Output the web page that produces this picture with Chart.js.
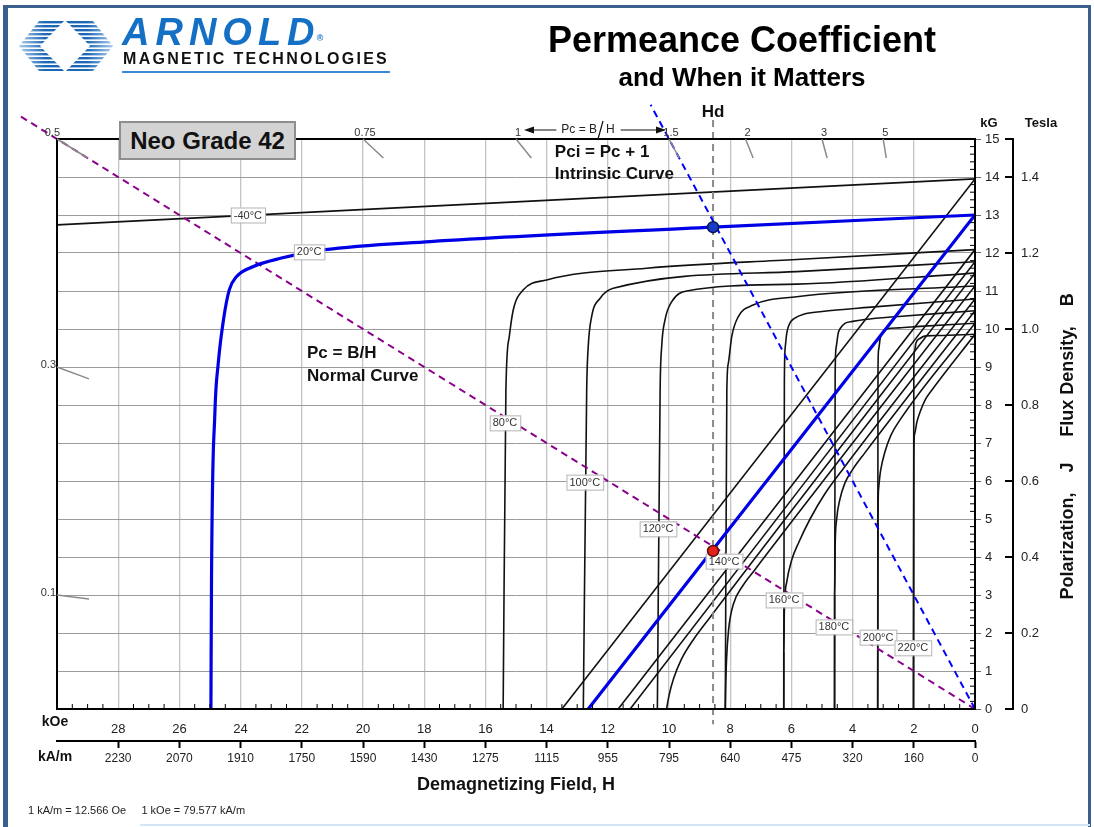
<!DOCTYPE html>
<html>
<head>
<meta charset="utf-8">
<script src="https://cdn.jsdelivr.net/npm/chart.js@4.4.1/dist/chart.umd.min.js"></script>
<style>
body{margin:0;background:#fff;width:1094px;height:827px;overflow:hidden;position:relative;font-family:"Liberation Sans",Arial,sans-serif}
#c{position:absolute;left:0;top:0}
.abs{position:absolute;white-space:nowrap}
#frame{position:absolute;left:3px;top:5px;width:1080px;height:840px;border-left:5px solid #3b5f8c;border-top:3px solid #3b5f8c;border-right:3px solid #3b5f8c}
</style>
</head>
<body>
<canvas id="c" width="1094" height="827"></canvas>
<div id="frame"></div>
<div class="abs" style="left:140px;top:824px;width:950px;height:2px;background:#d4e5f7"></div>

<svg class="abs" style="left:18px;top:20px" width="96" height="52" viewBox="0 0 96 52">
  <defs>
    <linearGradient id="lg" x1="0" x2="1" y1="0" y2="0">
      <stop offset="0" stop-color="#b3d1ef"/><stop offset="0.28" stop-color="#1d68b6"/>
      <stop offset="0.72" stop-color="#1d68b6"/><stop offset="1" stop-color="#b3d1ef"/>
    </linearGradient>
    <clipPath id="hex"><polygon points="1,26 21,1 75,1 95,26 75,51 21,51"/></clipPath>
  </defs>
  <g clip-path="url(#hex)" fill="url(#lg)">
    <rect x="0" y="1" width="96" height="2.4"/><rect x="0" y="5" width="96" height="2.4"/>
    <rect x="0" y="9" width="96" height="2.4"/><rect x="0" y="13" width="96" height="2.4"/>
    <rect x="0" y="17" width="96" height="2.4"/><rect x="0" y="21" width="96" height="2.4"/>
    <rect x="0" y="25" width="96" height="2.4"/><rect x="0" y="29" width="96" height="2.4"/>
    <rect x="0" y="33" width="96" height="2.4"/><rect x="0" y="37" width="96" height="2.4"/>
    <rect x="0" y="41" width="96" height="2.4"/><rect x="0" y="45" width="96" height="2.4"/>
    <rect x="0" y="49" width="96" height="2.4"/>
  </g>
  <polygon points="22,26 47,0 72,26 47,52" fill="#fff"/>
</svg>
<div class="abs" style="left:122px;top:13px;font:italic 900 38px/38px 'Liberation Sans',Arial,sans-serif;letter-spacing:6px;color:#1470c4">ARNOLD<span style="font-size:9px;vertical-align:top;letter-spacing:0;position:relative;top:6px;left:-4px">®</span></div>
<div class="abs" style="left:123px;top:51px;font:bold 16px/16px 'Liberation Sans',Arial,sans-serif;letter-spacing:2.3px;color:#111">MAGNETIC TECHNOLOGIES</div>
<div class="abs" style="left:122px;top:71px;width:268px;height:2px;background:#3a8ad8"></div>

<div class="abs" style="left:492px;width:500px;top:22px;text-align:center;font:bold 36px/36px 'Liberation Sans',Arial,sans-serif;color:#000">Permeance Coefficient</div>
<div class="abs" style="left:492px;width:500px;top:64px;text-align:center;font:bold 26px/26px 'Liberation Sans',Arial,sans-serif;color:#000">and When it Matters</div>

<div class="abs" style="left:119px;top:121px;width:177px;height:39px;box-sizing:border-box;border:2px solid #8e8e8e;background:#d3d3d3;text-align:center;font:bold 24px/35px 'Liberation Sans',Arial,sans-serif;color:#111">Neo Grade 42</div>

<div class="abs" style="left:28px;top:804px;font:11px/13px 'Liberation Sans',Arial,sans-serif;color:#222">1 kA/m = 12.566 Oe&nbsp;&nbsp;&nbsp;&nbsp;&nbsp;1 kOe = 79.577 kA/m</div>

<script>
// intrinsic curves J(H), [H kOe, J kG]
const jM40 = [[0, 13.95], [30, 12.74]];
const j20 = [[0, 13.0], [8.56, 12.68], [17.8, 12.3], [21.3, 12.08], [22.7, 11.86], [23.6, 11.64], [24.13, 11.38], [24.37, 11.03], [24.56, 10.24], [24.73, 9.1], [24.84, 7.8], [24.95, 3.5], [24.97, 0]];
const j80 = [[0, 12.09], [5.83, 11.83], [10.73, 11.6], [14.0, 11.29], [14.76, 11.03], [15.09, 10.5], [15.22, 9.8], [15.33, 8.39], [15.42, 0]];
const j100 = [[0, 11.77], [5.83, 11.51], [11.82, 11.07], [12.25, 10.81], [12.53, 10.32], [12.64, 9.53], [12.69, 8.39], [12.8, 0]];
const j120 = [[0, 11.47], [5.83, 11.18], [9.42, 11.0], [9.91, 10.72], [10.13, 10.24], [10.24, 9.53], [10.29, 8.39], [10.38, 0]];
const j140 = [[0, 11.13], [5.83, 10.85], [7.25, 10.63], [7.74, 10.32], [7.95, 9.8], [8.06, 9.1], [8.11, 8.39], [8.16, 0]];
const j160 = [[0, 10.79], [3.5, 10.57], [5.0, 10.46], [5.6, 10.39], [5.9, 10.28], [6.04, 10.17], [6.15, 9.9], [6.2, 9.53], [6.23, 8.6], [6.25, 0]];
const j180 = [[0, 10.48], [2.5, 10.33], [3.6, 10.25], [4.0, 10.2], [4.25, 10.15], [4.4, 10.02], [4.47, 9.89], [4.54, 9.5], [4.57, 8.8], [4.59, 0]];
const j200 = [[0, 10.15], [1.8, 10.07], [2.5, 10.03], [2.9, 10.0], [3.05, 9.88], [3.1, 9.75], [3.15, 9.45], [3.17, 8.9], [3.18, 0]];
const j220 = [[0, 9.86], [1.2, 9.83], [1.6, 9.82], [1.8, 9.75], [1.93, 9.63], [1.98, 9.4], [2.0, 9.0], [2.01, 0]];

// normal curves B(H), [H kOe, B kG]
const bM40 = [[0, 13.95], [13.5, 0]];
const b20 = [[0, 13.0], [12.64, 0]];
const b80 = [[0, 12.09], [11.66, 0]];
const b100 = [[0, 11.77], [11.27, 0]];
const b120 = [[0, 11.47], [8.7, 2.37], [9.2, 1.83], [9.6, 1.3], [9.85, 0.8], [10.0, 0.35], [10.08, 0]];
const b140 = [[0, 11.13], [7.2, 3.66], [7.6, 3.23], [7.9, 2.75], [8.05, 2.1], [8.12, 1.3], [8.15, 0.5], [8.16, 0]];
const b160 = [[0, 10.79], [4.3, 6.33], [4.9, 5.67], [5.39, 5.0], [5.75, 4.4], [5.99, 3.92], [6.15, 3.35], [6.23, 2.6], [6.25, 1.5], [6.25, 0]];
const b180 = [[0, 10.48], [3.6, 6.74], [4.0, 6.3], [4.25, 5.95], [4.42, 5.5], [4.52, 5.0], [4.57, 4.3], [4.59, 3.0], [4.59, 0]];
const b200 = [[0, 10.15], [2.5, 7.55], [2.75, 7.2], [2.95, 6.75], [3.08, 6.3], [3.15, 5.8], [3.17, 5.0], [3.18, 0]];
const b220 = [[0, 9.86], [1.45, 8.35], [1.62, 8.15], [1.78, 7.85], [1.9, 7.55], [1.97, 7.25], [2.0, 6.7], [2.01, 0]];

// load lines and operating points
const loadPc = [[0, 0], [31.3, 15.65]];     // Pc = 0.5
const loadPci = [[0, 0], [10.6, 15.9]];     // Pci = 1.5
const hdLine = [[8.56, 15.5], [8.56, -0.4]];
const hdPoints = [[8.56, 12.68], [8.56, 4.16]];

// temperature tags
const tempNames = ['-40°C', '20°C', '80°C', '100°C', '120°C', '140°C', '160°C', '180°C', '200°C', '220°C'];
const tempTagH = [23.76, 21.76, 15.36, 12.75, 10.36, 8.2, 6.24, 4.61, 3.17, 2.03];
const tempTagB = [13.0, 12.03, 7.53, 5.97, 4.74, 3.89, 2.87, 2.16, 1.89, 1.61];

// notes inside the plot
const noteText = ['Pc = B/H', 'Normal Curve', 'Pci = Pc + 1', 'Intrinsic Curve'];
const noteH = [21.83, 21.83, 13.73, 13.73];
const noteB = [9.37, 8.76, 14.66, 14.08];

// axis labels
const kAmLabels = ['0', '160', '320', '475', '640', '795', '955', '1115', '1275', '1430', '1590', '1750', '1910', '2070', '2230'];
const teslaLabels = ['0', '0.2', '0.4', '0.6', '0.8', '1.0', '1.2', '1.4'];
const pcTop = [0.5, 0.75, 1, 1.5, 2, 3, 5];
const pcSide = [0.3, 0.1];

const fam = '"Liberation Sans", Arial, sans-serif';
Chart.defaults.font.family = fam;

function curve(pts, color, width) {
    return {
        data: pts.map(p => ({x: p[0], y: p[1]})),
        showLine: true, borderColor: color, borderWidth: width,
        pointRadius: 0, cubicInterpolationMode: 'monotone'
    };
}
function dashed(pts, color) {
    let d = curve(pts, color, 2);
    d.borderDash = [7, 5];
    d.cubicInterpolationMode = 'default';
    d.clip = false;
    return d;
}

//white tags with the temperatures
function tempTags(chart) {
    const ctx = chart.ctx, xs = chart.scales.x, ys = chart.scales.y;
    ctx.save();
    ctx.font = '11px ' + fam;
    ctx.textAlign = 'center';
    ctx.textBaseline = 'middle';
    tempNames.forEach((t, i) => {
        const px = xs.getPixelForValue(tempTagH[i]), py = ys.getPixelForValue(tempTagB[i]);
        const w = ctx.measureText(t).width + 6, h = 15;
        ctx.fillStyle = '#fff';
        ctx.fillRect(px - w / 2, py - h / 2, w, h);
        ctx.strokeStyle = '#b4b4b4';
        ctx.lineWidth = 1;
        ctx.strokeRect(px - w / 2 + 0.5, py - h / 2 + 0.5, w, h);
        ctx.fillStyle = '#333';
        ctx.fillText(t, px, py + 0.5);
    });
    ctx.fillStyle = '#111';
    ctx.font = 'bold 17px ' + fam;
    ctx.textAlign = 'left';
    noteText.forEach((t, i) => {
        ctx.fillText(t, xs.getPixelForValue(noteH[i]), ys.getPixelForValue(noteB[i]));
    });
    ctx.restore();
}

const decor = {
    id: 'decor',
    beforeDatasetDraw(chart, args) {
        if (chart.data.datasets[args.index].label === 'dots') tempTags(chart);
    },
    afterDraw(chart) {
        const ctx = chart.ctx, a = chart.chartArea;
        const xs = chart.scales.x, ys = chart.scales.y, ts = chart.scales.y2;
        ctx.save();
        //plot frame
        ctx.strokeStyle = '#000';
        ctx.lineWidth = 2;
        ctx.strokeRect(a.left, a.top, a.right - a.left, a.bottom - a.top);
        //small inner ticks
        ctx.lineWidth = 1;
        ctx.beginPath();
        for (let h = 0.5; h < 30; h += 0.5) {
            if (h % 2 === 0) continue;
            const px = xs.getPixelForValue(h);
            ctx.moveTo(px, a.bottom);
            ctx.lineTo(px, a.bottom - 5);
        }
        for (let i = 1; i < 75; i++) {
            if (i % 5 === 0) continue;
            const py = ys.getPixelForValue(i * 0.2);
            ctx.moveTo(a.right, py);
            ctx.lineTo(a.right - 5, py);
        }
        ctx.stroke();
        //Tesla ticks point left
        ctx.lineWidth = 2;
        ctx.beginPath();
        ts.ticks.map(t => t.value).concat([ts.max]).forEach(v => {
            const py = Math.round(ts.getPixelForValue(v));
            ctx.moveTo(ts.left - 8, py);
            ctx.lineTo(ts.left, py);
        });
        ctx.stroke();

        //permeance coefficient scale
        const ox = xs.getPixelForValue(0), oy = ys.getPixelForValue(0);
        ctx.strokeStyle = '#8a8a8a';
        ctx.lineWidth = 1.5;
        ctx.fillStyle = '#333';
        ctx.font = '11px ' + fam;
        ctx.textBaseline = 'alphabetic';
        pcTop.forEach(pc => {
            const px = xs.getPixelForValue(15 / pc), py = ys.getPixelForValue(15);
            const k = 19 / (oy - py);
            ctx.beginPath();
            ctx.moveTo(px, py);
            ctx.lineTo(px + k * (ox - px), py + 19);
            ctx.stroke();
            const corner = px < a.left + 4;
            ctx.textAlign = corner ? 'right' : 'center';
            ctx.fillText(String(pc), corner ? px + 3 : px + 2, py - 3);
        });
        pcSide.forEach(pc => {
            const px = xs.getPixelForValue(30), py = ys.getPixelForValue(30 * pc);
            const k = 32 / (ox - px);
            ctx.beginPath();
            ctx.moveTo(px, py);
            ctx.lineTo(px + 32, py + k * (oy - py));
            ctx.stroke();
            ctx.textAlign = 'right';
            ctx.fillText(String(pc), px - 1, py + 1);
        });

        // <-- Pc = B/H -->
        const l = xs.getPixelForValue(15) + 8, r = xs.getPixelForValue(10) - 3;
        const cx = (l + r) / 2 + 6, yy = 130;
        ctx.fillStyle = '#222';
        ctx.strokeStyle = '#111';
        ctx.font = '12px ' + fam;
        ctx.textBaseline = 'middle';
        ctx.textAlign = 'right';
        ctx.fillText('Pc = B', cx - 4, yy);
        ctx.textAlign = 'left';
        ctx.fillText('H', cx + 5, yy);
        const tl = cx - 4 - ctx.measureText('Pc = B').width - 5;
        const tr = cx + 5 + ctx.measureText('H').width + 6;
        ctx.lineWidth = 1.2;
        ctx.beginPath();
        ctx.moveTo(cx - 3, yy + 9);
        ctx.lineTo(cx + 2, yy - 9);
        ctx.moveTo(l + 8, yy);
        ctx.lineTo(tl, yy);
        ctx.moveTo(tr, yy);
        ctx.lineTo(r - 8, yy);
        ctx.stroke();
        ctx.beginPath();
        ctx.moveTo(l, yy); ctx.lineTo(l + 10, yy - 3.5); ctx.lineTo(l + 10, yy + 3.5); ctx.closePath();
        ctx.moveTo(r, yy); ctx.lineTo(r - 10, yy - 3.5); ctx.lineTo(r - 10, yy + 3.5); ctx.closePath();
        ctx.fillStyle = '#111';
        ctx.fill();

        //headings round the plot
        ctx.fillStyle = '#111';
        ctx.textAlign = 'center';
        ctx.font = 'bold 17px ' + fam;
        ctx.fillText('Hd', xs.getPixelForValue(hdLine[0][0]), a.top - 27);
        ctx.font = 'bold 13px ' + fam;
        ctx.fillText('kG', a.right + 14, a.top - 16);
        ctx.fillText('Tesla', ts.left + 28, a.top - 16);
        ctx.font = 'bold 14px ' + fam;
        ctx.fillText('kOe', a.left - 2, a.bottom + 13);
        ctx.fillText('kA/m', a.left - 2, a.bottom + 48);

        ctx.font = 'bold 18px ' + fam;
        ctx.translate(1068, 0);
        ctx.rotate(-Math.PI / 2);
        ctx.fillText('Polarization,    J', -531, 0);
        ctx.fillText('Flux Density,    B', -365, 0);
        ctx.restore();
    }
};

const black = '#111';
const blue = '#0000e6';
const datasets = [
    {
        label: 'dots',
        data: hdPoints.map(p => ({x: p[0], y: p[1]})),
        showLine: false, pointRadius: 5.5, borderWidth: 1.5,
        backgroundColor: ['#1a3cc4', '#e3211b'],
        borderColor: ['#0a1650', '#5a0a0a'],
        clip: false
    },
    curve(j20, blue, 3.2),
    curve(b20, blue, 3.2),
    dashed(loadPci, '#0000ff'),
    dashed(loadPc, '#8b008b'),
    dashed(hdLine, '#8a8a8a')
];
[jM40, j80, j100, j120, j140, j160, j180, j200, j220].forEach(c => datasets.push(curve(c, black, 1.6)));
[bM40, b80, b100, b120, b140, b160, b180, b200, b220].forEach(c => datasets.push(curve(c, black, 1.6)));

new Chart(document.getElementById('c'), {
    type: 'scatter',
    data: {datasets: datasets},
    plugins: [decor],
    options: {
        responsive: false,
        animation: false,
        devicePixelRatio: 1,
        events: [],
        layout: {padding: {left: 57, top: 139, right: 0, bottom: 0}},
        plugins: {legend: {display: false}, tooltip: {enabled: false}},
        scales: {
            x: {
                type: 'linear', position: 'bottom', min: 0, max: 30, reverse: true, weight: 0,
                afterFit: s => { s.height = 32; },
                ticks: {stepSize: 2, autoSkip: false, maxRotation: 0, padding: 13, color: '#222', font: {size: 13},
                    callback: v => v === 30 ? '' : String(v)},
                grid: {color: '#c4c4c4', lineWidth: 1.3, drawTicks: false},
                border: {color: '#000', width: 2}
            },
            x2: {
                type: 'linear', position: 'bottom', min: 0, max: 30, reverse: true, weight: 1,
                afterFit: s => { s.height = 86; },
                ticks: {stepSize: 2, autoSkip: false, maxRotation: 0, padding: 3, color: '#222', font: {size: 12},
                    callback: v => kAmLabels[Math.round(v / 2)] || ''},
                grid: {drawOnChartArea: false, drawTicks: true, tickLength: 7, tickWidth: 2,
                    tickColor: c => (c.tick && c.tick.value === 30) ? 'rgba(0,0,0,0)' : '#000'},
                border: {color: '#000', width: 2},
                title: {display: true, text: 'Demagnetizing Field, H', color: '#111',
                    font: {size: 18, weight: 'bold'}, padding: {top: 0, bottom: 31}}
            },
            y: {
                type: 'linear', position: 'right', min: 0, max: 15, weight: 0,
                afterFit: s => { s.width = 38; },
                ticks: {stepSize: 1, autoSkip: false, padding: 4, color: '#222', font: {size: 13}},
                grid: {color: '#9c9c9c', lineWidth: 1, drawTicks: true, tickLength: 6, tickColor: '#666'},
                border: {color: '#000', width: 2}
            },
            y2: {
                type: 'linear', position: 'right', min: 0, max: 1.5, weight: 1,
                afterFit: s => { s.width = 81; },
                ticks: {stepSize: 0.2, includeBounds: false, autoSkip: false, padding: 8, color: '#222', font: {size: 13},
                    callback: v => teslaLabels[Math.round(v / 0.2)] || ''},
                grid: {drawOnChartArea: false, drawTicks: false},
                border: {color: '#000', width: 2}
            }
        }
    }
});
</script>
</body>
</html>
